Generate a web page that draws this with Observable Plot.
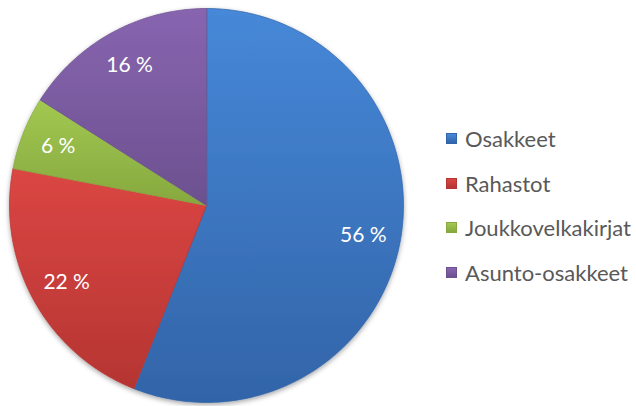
<!DOCTYPE html>
<html><head><meta charset="utf-8">
<script src="https://cdn.jsdelivr.net/npm/d3@7"></script>
<script src="https://cdn.jsdelivr.net/npm/@observablehq/plot@0.6"></script>
<style>
body{margin:0;background:#fff}
#chart{position:relative;width:636px;height:406px;overflow:hidden}
#legend{position:absolute;left:446px;top:116px;font-family:Lato,"Open Sans",sans-serif;font-size:22px;color:#595959}
.item{display:flex;align-items:center;height:44.7px;white-space:nowrap}
.sw{width:11px;height:11px;margin-right:8px;box-sizing:border-box}
</style>
</head><body><div id="chart"><div id="legend"></div></div>
<script>
const categories = ["Osakkeet", "Rahastot", "Joukkovelkakirjat", "Asunto-osakkeet"];
const values = [56, 22, 6, 16];
const labels = ["56 %", "22 %", "6 %", "16 %"];
const colorsTop = ["#4688d8", "#db4643", "#a2c851", "#8865b0"];
const colorsBottom = ["#3264a8", "#b53532", "#86a83f", "#6c508f"];

const arcs = d3.pie().sort(null).value(d => d)(values);
const slicePts = [];
arcs.forEach((a, i) => {
  slicePts.push({cat: categories[i], i, x: 0, y: 0});
  const n = Math.max(2, Math.ceil((a.endAngle - a.startAngle) / (Math.PI / 180)));
  for (let k = 0; k <= n; k++) {
    const t = a.startAngle + (a.endAngle - a.startAngle) * k / n;
    slicePts.push({cat: categories[i], i, x: Math.sin(t), y: Math.cos(t)});
  }
});
const labelData = arcs.map((a, i) => {
  const m = (a.startAngle + a.endAngle) / 2;
  return {text: labels[i], x: 0.81 * Math.sin(m), y: 0.81 * Math.cos(m)};
});

const svg = Plot.plot({
  width: 636, height: 406,
  margin: 0,
  x: {domain: [-1, 1], range: [9, 403], axis: null},
  y: {domain: [-1, 1], range: [402, 8], axis: null},
  color: {type: "identity"},
  marks: [
    Plot.line(slicePts, {x: "x", y: "y", z: "cat", fill: d => `url(#g${d.i})`, stroke: d => colorsBottom[d.i], strokeWidth: 0.8, strokeOpacity: 0.9, curve: "linear-closed"}),
    Plot.text(labelData, {x: "x", y: "y", text: "text", fill: "white", fontSize: 21, fontFamily: "Lato, 'Open Sans', sans-serif"})
  ]
});
svg.style.position = "absolute"; svg.style.left = "0"; svg.style.top = "0";
const ns = "http://www.w3.org/2000/svg";
const defs = document.createElementNS(ns, "defs");
let html = "";
categories.forEach((c, i) => {
  html += `<linearGradient id="g${i}" x1="0" y1="0" x2="0" y2="1"><stop offset="0" stop-color="${colorsTop[i]}"/><stop offset="1" stop-color="${colorsBottom[i]}"/></linearGradient>`;
});
html += `<filter id="shadow" x="-10%" y="-10%" width="120%" height="120%"><feDropShadow dx="0" dy="2" stdDeviation="2.5" flood-color="#000" flood-opacity="0.35"/></filter>`;
defs.innerHTML = html;
svg.insertBefore(defs, svg.firstChild);
const lineG = svg.querySelector('g[aria-label="line"]');
if (lineG) lineG.setAttribute("filter", "url(#shadow)");
document.getElementById("chart").appendChild(svg);
document.getElementById("chart").appendChild(document.getElementById("legend"));

const leg = document.getElementById("legend");
categories.forEach((c, i) => {
  const it = document.createElement("div"); it.className = "item";
  const sw = document.createElement("div"); sw.className = "sw";
  sw.style.background = `linear-gradient(${colorsTop[i]}, ${colorsBottom[i]})`;
  sw.style.border = `1px solid ${colorsBottom[i]}`;
  const tx = document.createElement("span"); tx.textContent = c;
  it.appendChild(sw); it.appendChild(tx); leg.appendChild(it);
});
</script>
</body></html>
